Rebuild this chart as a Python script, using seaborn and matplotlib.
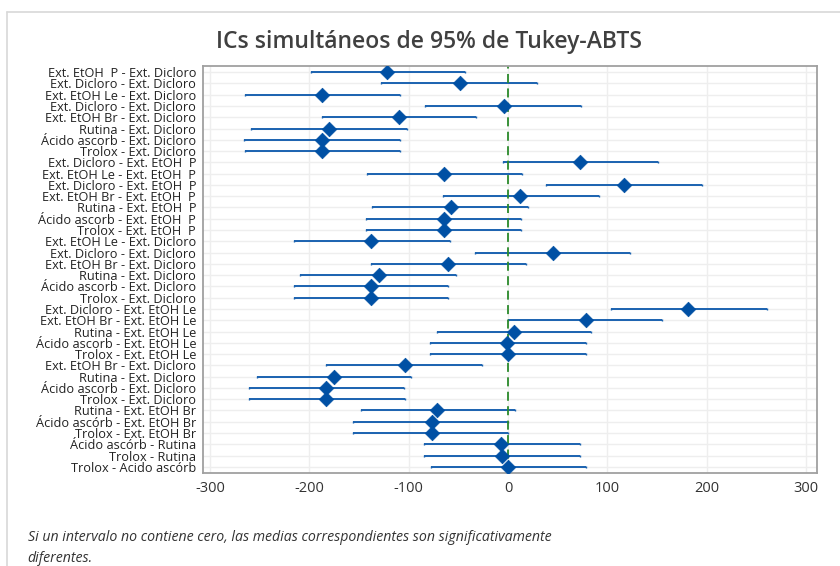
import numpy as np
import pandas as pd
import matplotlib
matplotlib.use("Agg")
import matplotlib.pyplot as plt
import seaborn as sns
from matplotlib.lines import Line2D

# comparisons (top to bottom as in the chart)
labels = [
    "Ext. EtOH  P - Ext. Dicloro", "Ext. Dicloro - Ext. Dicloro", "Ext. EtOH Le - Ext. Dicloro",
    "Ext. Dicloro - Ext. Dicloro", "Ext. EtOH Br - Ext. Dicloro", "Rutina - Ext. Dicloro",
    "Ácido ascorb - Ext. Dicloro", "Trolox - Ext. Dicloro",
    "Ext. Dicloro - Ext. EtOH  P", "Ext. EtOH Le - Ext. EtOH  P", "Ext. Dicloro - Ext. EtOH  P",
    "Ext. EtOH Br - Ext. EtOH  P", "Rutina - Ext. EtOH  P", "Ácido ascorb - Ext. EtOH  P",
    "Trolox - Ext. EtOH  P",
    "Ext. EtOH Le - Ext. Dicloro", "Ext. Dicloro - Ext. Dicloro", "Ext. EtOH Br - Ext. Dicloro",
    "Rutina - Ext. Dicloro", "Ácido ascorb - Ext. Dicloro", "Trolox - Ext. Dicloro",
    "Ext. Dicloro - Ext. EtOH Le", "Ext. EtOH Br - Ext. EtOH Le", "Rutina - Ext. EtOH Le",
    "Ácido ascorb - Ext. EtOH Le", "Trolox - Ext. EtOH Le",
    "Ext. EtOH Br - Ext. Dicloro", "Rutina - Ext. Dicloro", "Ácido ascorb - Ext. Dicloro",
    "Trolox - Ext. Dicloro",
    "Rutina - Ext. EtOH Br", "Ácido ascórb - Ext. EtOH Br", "Trolox - Ext. EtOH Br",
    "Ácido ascórb - Rutina", "Trolox - Rutina", "Trolox - Acido ascórb",
]

diff = [-121.6, -48.8, -186.8, -4.0, -109.6, -180.4, -186.8, -186.8,
        72.8, -64.8, 117.2, 12.4, -57.2, -64.8, -64.8,
        -138.0, 45.2, -60.8, -130.0, -138.0, -138.0,
        181.6, 78.0, 6.4, -0.8, 0.4,
        -104.0, -174.8, -182.8, -182.8,
        -71.2, -76.8, -76.8, -7.2, -5.6, 0.4]

lower = [-198.8, -128.0, -264.8, -83.2, -187.2, -258.8, -266.0, -264.8,
         -4.8, -142.4, 38.4, -65.6, -136.8, -142.8, -142.8,
         -215.6, -32.8, -138.4, -209.6, -215.6, -215.6,
         104.0, 0.0, -71.6, -78.8, -78.8,
         -182.8, -252.4, -260.4, -260.4,
         -148.4, -156.0, -156.0, -84.8, -84.8, -77.2]

upper = [-43.6, 28.8, -108.8, 73.6, -32.0, -102.0, -108.8, -108.8,
         150.8, 14.4, 195.2, 91.6, 20.4, 13.2, 13.2,
         -58.8, 122.4, 18.4, -52.4, -60.0, -60.0,
         260.8, 155.2, 84.0, 78.0, 78.0,
         -26.0, -97.2, -104.8, -103.6,
         6.8, 0.0, 0.0, 72.0, 72.0, 78.0]

xticks = [-300, -200, -100, 0, 100, 200, 300]

df = pd.DataFrame({"pos": np.arange(len(labels)), "label": labels,
                   "diff": diff, "lower": lower, "upper": upper})

sns.set_style("white")
plt.rcParams["font.family"] = ["Open Sans", "DejaVu Sans"]

fig = plt.figure(figsize=(8.4, 5.66), dpi=100)
ax = fig.add_axes([0.2417, 0.1643, 0.7309, 0.7191])

ax.errorbar(df["diff"], df["pos"],
            xerr=[df["diff"] - df["lower"], df["upper"] - df["diff"]],
            fmt="none", ecolor="#1a62b0", elinewidth=1.4, capsize=1.0, capthick=1.0, zorder=2)
sns.scatterplot(data=df, x="diff", y="pos", marker="D", s=55, color="#0050a4",
                edgecolor="#0050a4", linewidth=0.5, ax=ax, zorder=3)

ax.axvline(0, color="#2a8a2a", linestyle=(0, (5, 3)), linewidth=1.3, zorder=2.5)

ax.set_yticks(df["pos"])
ax.set_yticklabels(df["label"], fontsize=9.2, color="#222222")
ax.set_ylim(len(labels) - 0.45, -0.55)
ax.set_xticks(xticks)
ax.set_xticklabels([str(v) for v in xticks], fontsize=10.5, color="#333333")
ax.set_xlim(-307, 311)
ax.set_xlabel("")
ax.set_ylabel("")

ax.grid(True, color="#eeeeee", linewidth=1.0, zorder=0)
ax.set_axisbelow(True)
for s in ax.spines.values():
    s.set_color("#a0a0a0")
    s.set_linewidth(1.3)
ax.tick_params(axis="both", direction="out", length=4, width=0.8, color="#888888", pad=2)
ax.tick_params(axis="y", pad=1)

fig.text(0.511, 0.925, "ICs simultáneos de 95% de Tukey-ABTS", ha="center", va="center",
         fontsize=16.5, color="#404040", fontweight="semibold")

fig.text(0.033, 0.051, "Si un intervalo no contiene cero, las medias correspondientes son significativamente",
         fontsize=10.2, style="italic", color="#333333", va="center")
fig.text(0.033, 0.014, "diferentes.", fontsize=10.2, style="italic", color="#333333", va="center")

# outer panel border
fig.add_artist(Line2D([0.0083, 1.0], [0.979, 0.979], color="#d8d8d8", linewidth=1.2))
fig.add_artist(Line2D([0.0083, 0.0083], [0.0, 0.979], color="#d8d8d8", linewidth=1.2))

fig.savefig("out.png", dpi=100)
